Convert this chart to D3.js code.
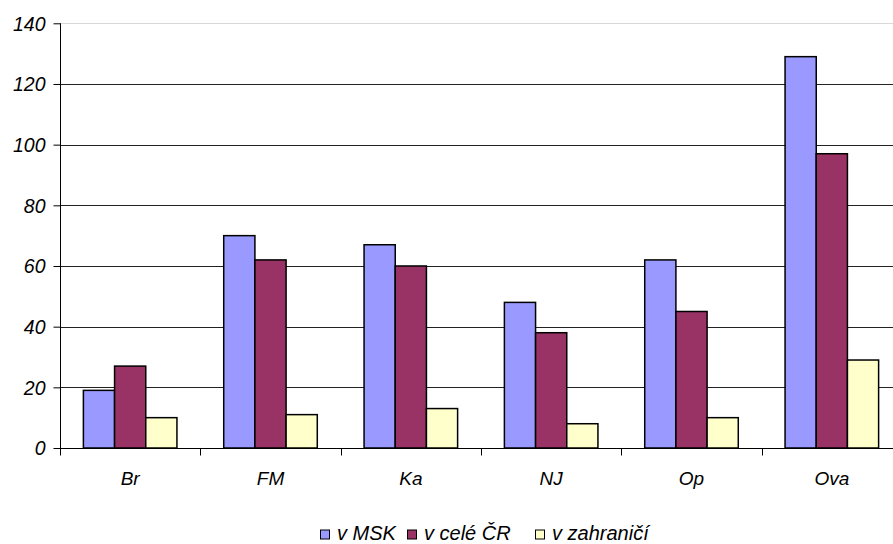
<!DOCTYPE html>
<html><head><meta charset="utf-8">
<script src="https://cdn.jsdelivr.net/npm/d3@7"></script>
<style>
html,body{margin:0;padding:0;background:#fff;overflow:hidden}
text{font-family:"Liberation Sans",Arial,sans-serif;font-style:italic;fill:#000}
</style></head>
<body><svg id="c" width="893" height="544"></svg>
<script>
const categories = ["Br","FM","Ka","NJ","Op","Ova"];
const seriesNames = ["v MSK","v celé ČR","v zahraničí"];
const vMSK = [19,70,67,48,62,129];
const vCeleCR = [27,62,60,38,45,97];
const vZahranici = [10,11,13,8,10,29];
const yTicks = [0,20,40,60,80,100,120,140];
const colors = ["#9999FF","#993366","#FFFFCC"];

(function(){
const seriesValues = [vMSK, vCeleCR, vZahranici];
const svg = d3.select("#c");
const pLeft = 60, pRight = 902, pTop = 23.3, pBottom = 448;

const x = d3.scaleBand().domain(categories).range([pLeft, pRight]).padding(0);
const bw = x.bandwidth();
const barW = bw / 4.5;
const x1 = d3.scaleBand().domain(seriesNames).range([barW*0.75, barW*0.75 + 3*barW]).padding(0);
const y = d3.scaleLinear().domain([0,140]).range([pBottom, pTop]);

// gridlines
svg.append("g").selectAll("line").data(yTicks.filter(d=>d>0)).join("line")
  .attr("x1", pLeft).attr("x2", 893)
  .attr("y1", d=>Math.round(y(d))+0.5).attr("y2", d=>Math.round(y(d))+0.5)
  .attr("stroke", d=> d===140 ? "#d8d8d8" : "#222").attr("stroke-width",1);

// bars
const g = svg.append("g");
categories.forEach((c, i) => {
  seriesNames.forEach((s, j) => {
    const v = seriesValues[j][i];
    g.append("rect")
      .attr("x", x(c) + x1(s))
      .attr("y", y(v))
      .attr("width", x1.bandwidth())
      .attr("height", y(0) - y(v))
      .attr("fill", colors[j])
      .attr("stroke", "#000").attr("stroke-width", 1.5);
  });
});

// y axis
const yAxis = d3.axisLeft(y).tickValues(yTicks).tickSize(7).tickPadding(8);
const ya = svg.append("g").attr("transform", `translate(${pLeft+0.5},0)`).call(yAxis);
ya.select(".domain").attr("stroke","#000").attr("d", `M0,${pTop}V${pBottom}`);
ya.selectAll(".tick line").attr("stroke","#000");
ya.selectAll("text").style("font-size","19.5px").style("font-family","'Liberation Sans',Arial,sans-serif").style("font-style","italic").attr("fill","#000").attr("dy","0.35em");

// x axis
const xa = svg.append("g").attr("transform", `translate(0,${Math.round(pBottom)+0.5})`);
xa.append("line").attr("x1", pLeft).attr("x2", 893).attr("stroke","#000");
const tickXs = d3.range(categories.length+1).map(i => pLeft + i*bw);
xa.selectAll(".t").data(tickXs).join("line").attr("class","t")
  .attr("x1", d=>Math.round(d)+0.5).attr("x2", d=>Math.round(d)+0.5).attr("y1",0).attr("y2",7).attr("stroke","#000");
xa.selectAll("text").data(categories).join("text")
  .attr("x", d=>x(d)+bw/2).attr("y", 36.5)
  .attr("text-anchor","middle").style("font-size","19px").text(d=>d);

// legend
const lg = svg.append("g");
const legendX = [320, 407, 535];
const ly = 539.5;
seriesNames.forEach((s, j) => {
  const lx = legendX[j];
  lg.append("rect").attr("x", lx+0.5).attr("y", ly-9.5).attr("width", 9).attr("height", 9)
    .attr("fill", colors[j]).attr("stroke","#000").attr("stroke-width",1);
  lg.append("text").attr("x", lx+17).attr("y", ly).style("font-size","20px").text(s);
});
})();
</script></body></html>
